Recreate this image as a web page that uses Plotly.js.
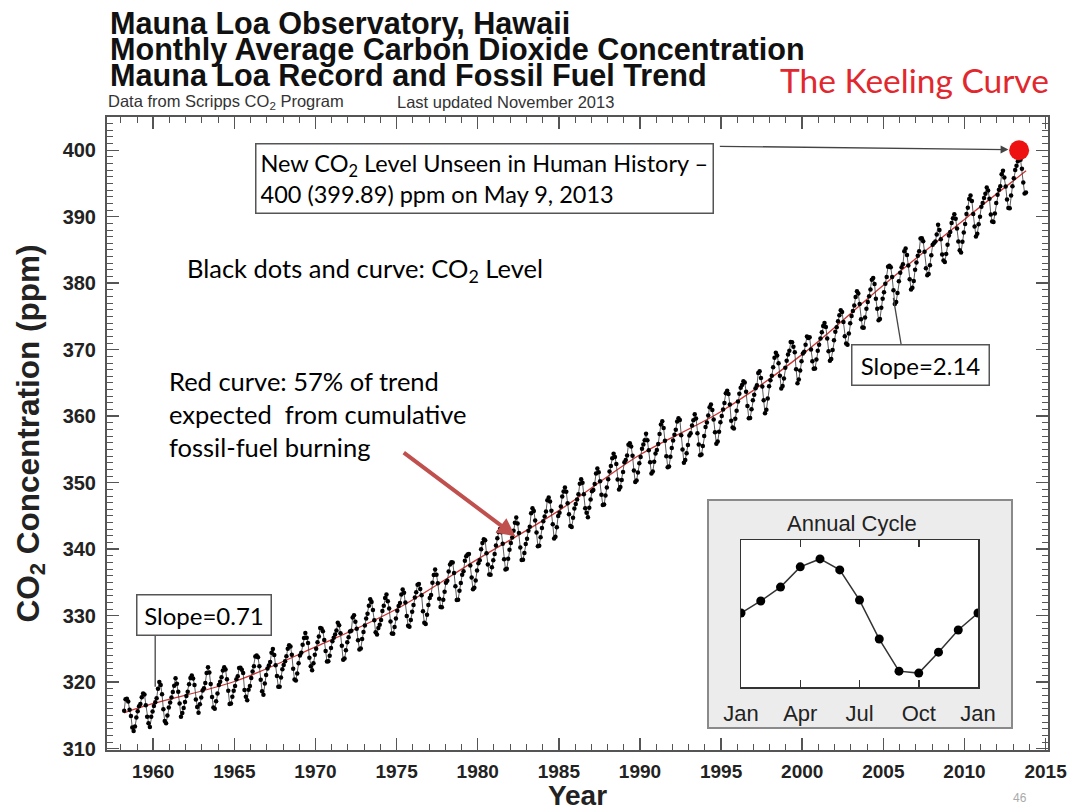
<!DOCTYPE html>
<html>
<head>
<meta charset="utf-8">
<script src="https://cdn.plot.ly/plotly-3.0.1.min.js"></script>
<style>
html,body{margin:0;padding:0;background:#fff;}
#chart{width:1076px;height:811px;}
</style>
</head>
<body>
<div id="chart"></div>
<script>
// ---- Data (monthly mean CO2, ppm), first value = March 1958 ----
const startYear = 1958;
const startMonth = 3;

const co2_1958_1959 = [
  315.71,317.45,317.50,317.10,315.86,314.93,313.20,312.66,313.33,314.67,
  315.62,316.38,316.71,317.72,318.29,318.15,316.54,314.80,313.84,313.26,314.80,315.58
];
const co2_1960s = [
  316.43,316.97,317.58,319.02,320.03,319.59,318.18,315.91,314.16,313.83,315.00,316.19,
  316.93,317.70,318.54,319.48,320.58,319.77,318.57,316.79,314.80,315.38,316.10,317.01,
  317.94,318.56,319.68,320.63,321.01,320.55,319.58,317.40,316.26,315.42,316.69,317.69,
  318.74,319.08,319.86,321.39,322.25,321.47,319.74,317.77,316.21,315.99,317.12,318.31,
  319.57,320.07,320.73,321.77,322.25,321.89,320.44,318.70,316.70,316.79,317.79,318.71,
  319.44,320.44,320.89,322.13,322.16,321.87,321.39,318.81,317.81,317.30,318.87,319.42,
  320.62,321.59,322.39,323.87,324.01,323.75,322.39,320.37,318.64,318.10,319.79,321.08,
  322.07,322.50,323.04,324.42,325.00,324.09,322.55,320.92,319.31,319.31,320.72,321.96,
  322.57,323.15,323.89,325.02,325.57,325.36,324.14,322.03,320.41,320.25,321.31,322.84,
  324.00,324.42,325.64,326.66,327.38,326.70,325.89,323.67,322.38,321.78,322.85,324.12
];
const co2_1970s = [
  325.03,325.99,326.87,328.13,328.07,327.66,326.35,324.69,323.10,323.16,323.98,325.13,
  326.17,326.68,327.18,327.78,328.92,328.57,327.34,325.46,323.36,323.57,324.80,326.01,
  326.77,327.63,327.75,329.72,330.07,329.09,328.05,326.32,324.93,325.06,326.50,327.55,
  328.54,329.56,330.30,331.50,332.48,332.07,330.87,329.31,327.51,327.18,328.16,328.64,
  329.35,330.71,331.48,332.65,333.20,332.16,331.07,329.12,327.32,327.28,328.30,329.58,
  330.73,331.46,331.90,333.17,333.94,333.45,331.97,329.95,328.50,328.34,329.37,330.58,
  331.59,332.75,333.52,334.64,334.77,334.00,333.06,330.68,328.95,328.75,330.15,331.62,
  332.66,333.13,334.95,336.13,336.93,336.17,334.88,332.56,331.29,331.27,332.41,333.60,
  334.95,335.25,336.66,337.69,338.03,338.01,336.41,334.41,332.37,332.41,333.75,334.90,
  336.14,336.69,338.27,338.95,339.21,339.26,337.54,335.75,333.98,334.19,335.31,336.81
];
const co2_1980s = [
  337.90,338.34,340.01,340.93,341.48,341.33,339.40,337.70,336.19,336.15,337.27,338.32,
  339.29,340.55,341.63,342.60,343.04,342.54,340.82,338.48,336.95,337.05,338.58,339.91,
  340.93,341.76,342.78,343.96,344.77,343.88,342.42,340.24,338.38,338.41,339.44,340.78,
  341.57,342.79,343.37,345.40,346.14,345.76,344.32,342.51,340.46,340.53,341.79,343.20,
  344.21,344.92,345.68,347.37,347.78,347.16,345.79,343.74,341.59,341.86,343.31,345.00,
  345.48,346.41,347.91,348.66,349.28,348.65,346.90,345.26,343.47,343.35,344.73,346.12,
  346.78,347.48,348.25,349.86,350.52,349.98,348.25,346.17,345.48,344.82,346.22,347.48,
  348.73,348.92,349.81,351.40,352.15,351.58,350.21,348.20,346.66,346.72,348.08,349.28,
  350.51,351.70,352.50,353.67,354.35,353.88,352.80,350.49,348.97,349.37,350.42,351.62,
  353.07,353.43,354.08,355.72,355.95,355.44,354.05,351.84,350.09,350.33,351.55,352.91
];
const co2_1990s = [
  353.86,355.10,355.75,356.38,357.38,356.39,354.89,353.06,351.38,351.69,353.14,354.41,
  354.93,355.82,357.33,358.77,359.23,358.23,356.30,353.97,352.34,352.43,353.89,355.21,
  356.34,357.21,357.97,359.22,359.71,359.43,357.15,354.99,353.01,353.41,354.42,355.68,
  357.10,357.42,358.59,359.39,360.30,359.64,357.45,355.76,354.14,354.23,355.53,357.03,
  358.36,359.04,360.11,361.36,361.78,360.94,359.51,357.59,355.86,356.21,357.65,359.10,
  360.04,361.00,361.98,363.44,363.83,363.33,361.78,359.33,358.32,358.14,359.61,360.82,
  362.20,363.36,364.28,364.69,365.25,365.06,363.69,361.55,359.69,359.72,361.04,362.39,
  363.24,364.21,364.65,366.49,366.77,365.73,364.46,362.40,360.44,360.98,362.65,364.51,
  365.39,366.10,367.36,368.79,369.56,369.13,367.98,366.10,364.16,364.54,365.67,367.30,
  368.35,369.28,369.84,371.15,371.12,370.46,369.61,367.06,364.95,365.52,366.88,368.26
];
const co2_2000s = [
  369.45,369.71,370.75,371.98,371.75,371.87,370.02,368.27,367.15,367.18,368.53,369.83,
  370.76,371.69,372.63,373.55,374.03,373.40,371.68,369.78,368.34,368.61,369.94,371.42,
  372.70,373.37,374.30,375.19,375.93,375.69,374.16,372.03,370.92,370.73,372.43,373.98,
  375.07,375.82,376.64,377.92,378.78,378.46,376.88,374.57,373.34,373.31,374.84,376.17,
  377.17,378.05,379.06,380.54,380.80,379.87,377.65,376.17,374.43,374.63,376.33,377.68,
  378.63,379.91,380.95,382.48,382.64,382.40,380.93,378.93,376.89,377.19,378.54,380.31,
  381.58,382.40,382.86,384.80,385.22,384.24,382.65,380.60,379.04,379.33,380.35,382.02,
  383.10,384.12,384.81,386.73,386.78,386.33,384.73,382.24,381.20,381.37,382.70,384.19,
  385.78,386.06,386.28,387.33,388.78,387.99,386.61,384.32,383.41,383.21,384.41,385.79,
  387.17,387.70,389.04,389.76,390.36,389.70,388.24,386.29,384.95,384.64,386.23,387.63
];
const co2_2010s = [
  388.91,390.41,391.37,392.67,393.21,392.38,390.41,388.54,387.03,387.43,388.87,389.99,
  391.50,392.05,392.80,393.44,394.41,393.95,392.72,390.33,389.28,389.19,390.48,392.06,
  393.31,394.04,394.59,396.38,396.93,395.91,394.56,392.59,391.32,391.27,393.20,394.57,
  395.78,397.03,397.66,398.35,399.76,398.58,397.20,395.15,393.51,393.66
];

// Red curve: fossil-fuel trend
const trendYears = [1958.2,1960,1965,1970,1975,1980,1985,1990,1995,2000,2005,2010,2013.8];
const trendPpm   = [315.4,316.8,320.1,325.3,331.0,338.5,345.8,354.2,360.7,369.3,379.7,389.6,396.9];

// Highlighted record value
const recordDate = [2013.37];
const recordPpm  = [400];

// Annual cycle inset
const cycleMonths = [0,1,2,3,4,5,6,7,8,9,10,11,12];
const cycleValues = [0,0.67,1.44,2.56,3.0,2.39,0.72,-1.44,-3.22,-3.33,-2.17,-0.94,0];
const cycleTickVals = [0,3,6,9,12];
const cycleTickText = ['Jan','Apr','Jul','Oct','Jan'];

// ---- Build series ----
const monthly = [].concat(co2_1958_1959, co2_1960s, co2_1970s, co2_1980s, co2_1990s, co2_2000s, co2_2010s);
const dates = monthly.map((v, i) => {
  const m = startMonth - 1 + i;
  return startYear + Math.floor(m / 12) + ((m % 12) + 0.5) / 12;
});

// ---- Geometry helpers (pixel -> paper) ----
const L = 107, R = 1048, T = 117, B = 750;
const px = x => (x - L) / (R - L);
const py = y => (B - y) / (B - T);

const ARIAL = 'Liberation Sans, Arial, sans-serif';
const CAL = 'Lato, Carlito, Calibri, sans-serif';

const traces = [
  {
    x: trendYears, y: trendPpm, type: 'scatter', mode: 'lines',
    line: {color: '#cc3333', width: 1.3, shape: 'spline'},
    xaxis: 'x', yaxis: 'y', hoverinfo: 'skip'
  },
  {
    x: dates, y: monthly, type: 'scatter', mode: 'lines+markers',
    line: {color: '#333333', width: 0.8},
    marker: {color: '#000000', size: 4.5},
    xaxis: 'x', yaxis: 'y'
  },
  {
    x: recordDate, y: recordPpm, type: 'scatter', mode: 'markers',
    marker: {color: '#ee1111', size: 20},
    xaxis: 'x', yaxis: 'y'
  },
  {
    x: cycleMonths, y: cycleValues, type: 'scatter', mode: 'lines+markers',
    line: {color: '#333333', width: 1.5},
    marker: {color: '#000000', size: 9},
    xaxis: 'x2', yaxis: 'y2'
  }
];

const axisCommon = {
  showline: true, linecolor: '#555', linewidth: 2, mirror: 'allticks',
  ticks: 'inside', ticklen: 12, tickwidth: 1.5, tickcolor: '#555',
  showgrid: false, zeroline: false,
  tickfont: {family: ARIAL, size: 19, color: '#222', weight: 'bold'}
};

const layout = {
  width: 1076, height: 811,
  margin: {l: L, r: 1076 - R, t: T, b: 811 - B},
  paper_bgcolor: '#ffffff',
  plot_bgcolor: 'rgba(0,0,0,0)',
  showlegend: false,
  xaxis: Object.assign({}, axisCommon, {
    range: [1957.15, 2015.15], tick0: 1960, dtick: 5,
    minor: {dtick: 1, ticks: 'inside', ticklen: 6, tickwidth: 1, tickcolor: '#555'},
    ticklabelstandoff: 3,
    title: {text: 'Year', font: {family: ARIAL, size: 28, color: '#222', weight: 'bold'}, standoff: 9}
  }),
  yaxis: Object.assign({}, axisCommon, {
    range: [309.8, 405], tick0: 310, dtick: 10,
    minor: {dtick: 1, ticks: 'inside', ticklen: 6, tickwidth: 1, tickcolor: '#555'},
    ticklabelstandoff: 5,
    tickfont: {family: ARIAL, size: 20, color: '#222', weight: 'bold'},
    title: {text: 'CO<sub>2</sub> Concentration (ppm)', font: {family: ARIAL, size: 31.5, color: '#222', weight: 'bold'}, standoff: 14}
  }),
  xaxis2: {
    domain: [px(741), px(978)], anchor: 'y2', range: [0, 12],
    tickvals: cycleTickVals, ticktext: cycleTickText,
    showline: true, linecolor: '#333', linewidth: 1.5, mirror: 'ticks',
    ticks: 'inside', ticklen: 7, tickwidth: 1.5, tickcolor: '#333',
    showgrid: false, zeroline: false, ticklabelstandoff: 6,
    tickfont: {family: ARIAL, size: 22, color: '#222'}
  },
  yaxis2: {
    domain: [py(687), py(540)], anchor: 'x2', range: [-4.1, 4.05],
    showline: true, linecolor: '#333', linewidth: 1.5, mirror: true,
    ticks: '', showticklabels: false, showgrid: false, zeroline: false
  },
  shapes: [
    {type: 'rect', xref: 'paper', yref: 'paper', layer: 'below',
     x0: px(708), x1: px(1012), y0: py(728), y1: py(500),
     fillcolor: '#ececec', line: {color: '#8a8a8a', width: 2}},
    {type: 'rect', xref: 'paper', yref: 'paper', layer: 'below',
     x0: px(741), x1: px(978), y0: py(687), y1: py(540),
     fillcolor: '#ffffff', line: {width: 0}},
    // connector lines of the slope boxes
    {type: 'line', xref: 'x', yref: 'y', x0: 2006.12, y0: 370.45, x1: 2005.62, y1: 377.8,
     line: {color: '#444', width: 1.3}},
    {type: 'line', xref: 'x', yref: 'y', x0: 1960.12, y0: 327.25, x1: 1960.12, y1: 319.3,
     line: {color: '#444', width: 1.3}}
  ],
  annotations: [
    // Title block
    {xref: 'paper', yref: 'paper', x: px(108), y: py(23), xanchor: 'left', yanchor: 'middle', showarrow: false,
     text: 'Mauna Loa Observatory, Hawaii', font: {family: ARIAL, size: 30.6, color: '#111', weight: 'bold'}},
    {xref: 'paper', yref: 'paper', x: px(108), y: py(50), xanchor: 'left', yanchor: 'middle', showarrow: false,
     text: 'Monthly Average Carbon Dioxide Concentration', font: {family: ARIAL, size: 30.6, color: '#111', weight: 'bold'}},
    {xref: 'paper', yref: 'paper', x: px(108), y: py(75), xanchor: 'left', yanchor: 'middle', showarrow: false,
     text: 'Mauna Loa Record and Fossil Fuel Trend', font: {family: ARIAL, size: 30.6, color: '#111', weight: 'bold'}},
    {xref: 'paper', yref: 'paper', x: px(106), y: py(102), xanchor: 'left', yanchor: 'middle', showarrow: false,
     text: 'Data from Scripps CO<sub>2</sub> Program', font: {family: ARIAL, size: 16.5, color: '#333'}},
    {xref: 'paper', yref: 'paper', x: px(395), y: py(102), xanchor: 'left', yanchor: 'middle', showarrow: false,
     text: 'Last updated November 2013', font: {family: ARIAL, size: 16.5, color: '#333'}},
    {xref: 'paper', yref: 'paper', x: px(778), y: py(80), xanchor: 'left', yanchor: 'middle', showarrow: false,
     text: 'The Keeling Curve', font: {family: CAL, size: 33.5, color: '#e0282e'}},
    // Record box + arrow
    {xref: 'x', yref: 'y', x: 1966.29, y: 401.05, xanchor: 'left', yanchor: 'top', showarrow: false,
     text: 'New CO<sub>2</sub> Level Unseen in Human History –<br>400 (399.89) ppm on May 9, 2013',
     align: 'left', width: 448, height: 60, borderpad: 4, borderwidth: 1.5,
     bordercolor: '#555', bgcolor: '#ffffff',
     font: {family: CAL, size: 23.5, color: '#000'}},
    {xref: 'x', yref: 'y', axref: 'x', ayref: 'y', x: 2012.71, y: 400.1, ax: 1994.83, ay: 400.6,
     text: '', showarrow: true, arrowhead: 2, arrowsize: 1.2, arrowwidth: 1.3, arrowcolor: '#444'},
    // Explanatory texts
    {xref: 'x', yref: 'y', x: 1961.97, y: 382, xanchor: 'left', yanchor: 'middle', showarrow: false,
     text: 'Black dots and curve: CO<sub>2</sub> Level', font: {family: CAL, size: 25.5, color: '#000'}},
    {xref: 'x', yref: 'y', x: 1960.86, y: 360.4, xanchor: 'left', yanchor: 'middle', showarrow: false,
     align: 'left', text: 'Red curve: 57% of trend<br>expected  from cumulative<br>fossil-fuel burning',
     font: {family: CAL, size: 25.5, color: '#000'}},
    {xref: 'x', yref: 'y', axref: 'x', ayref: 'y', x: 1982.32, y: 341.95, ax: 1975.35, ay: 354.7,
     text: '', showarrow: true, arrowhead: 2, arrowsize: 0.9, arrowwidth: 4, arrowcolor: '#c0504d'},
    // Slope boxes
    {xref: 'x', yref: 'y', x: 2007.29, y: 367.75, xanchor: 'center', yanchor: 'middle', showarrow: false,
     text: 'Slope=2.14', borderpad: 5, borderwidth: 1.5, bordercolor: '#555', bgcolor: '#ffffff',
     width: 126, font: {family: CAL, size: 24, color: '#000'}},
    {xref: 'x', yref: 'y', x: 1963.11, y: 330.1, xanchor: 'center', yanchor: 'middle', showarrow: false,
     text: 'Slope=0.71', borderpad: 5, borderwidth: 1.5, bordercolor: '#555', bgcolor: '#ffffff',
     width: 123, font: {family: CAL, size: 24, color: '#000'}},
    // Inset title
    {xref: 'paper', yref: 'paper', x: px(852), y: py(523), xanchor: 'center', yanchor: 'middle', showarrow: false,
     text: 'Annual Cycle', font: {family: ARIAL, size: 22, color: '#222'}},
    // page number
    {xref: 'paper', yref: 'paper', x: px(1020), y: py(798), xanchor: 'center', yanchor: 'middle', showarrow: false,
     text: '46', font: {family: ARIAL, size: 12, color: '#aaaaaa'}}
  ]
};

Plotly.newPlot('chart', traces, layout, {displayModeBar: false, staticPlot: true});
</script>
</body>
</html>
